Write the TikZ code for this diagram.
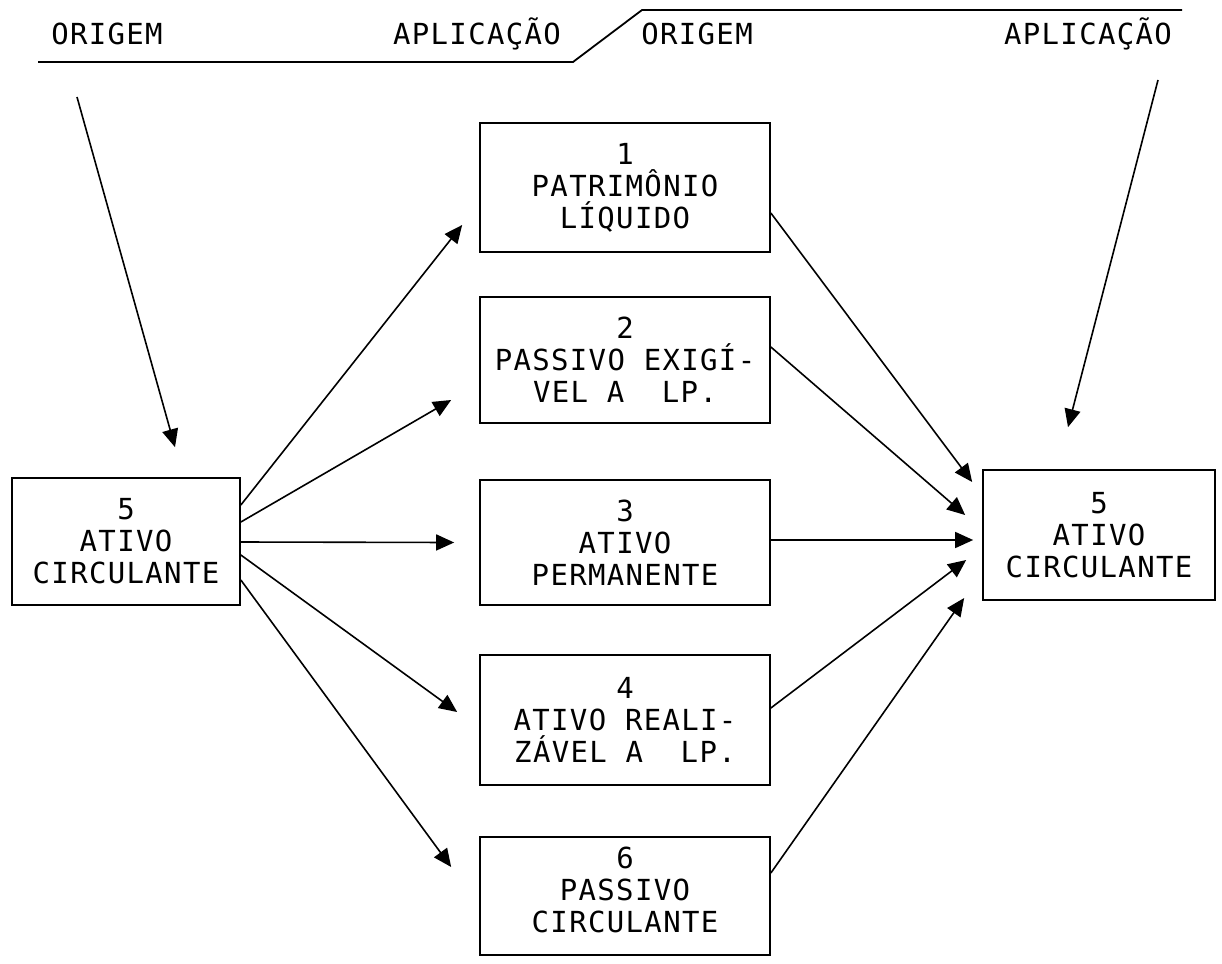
\documentclass[tikz,border=0pt]{standalone}
\usepackage{fontspec}
\usetikzlibrary{arrows.meta}
\newfontfamily\tw{DejaVu Sans Mono}[LetterSpace=4.6]

\tikzset{
  acct/.style={draw, line width=1.7pt, minimum width=290pt, minimum height=128pt,
               inner sep=0pt, align=center, font=\tw\fontsize{29}{32}\selectfont},
  label/.style={inner sep=0pt, anchor=base, font=\tw\fontsize{29}{32}\selectfont},
  flow/.style={line width=1.6pt, -{Triangle[length=18pt,width=16pt]}},
  rule/.style={line width=1.8pt}
}

\begin{document}
\begin{tikzpicture}[x=1pt,y=-1pt]
\useasboundingbox (0,0) rectangle (1222,963);

% heading with the two column pairs
\node[label] (o1) at (107,45) {ORIGEM};
\node[label] (a1) at (477,45) {APLICAÇÃO};
\node[label] (o2) at (697,45) {ORIGEM};
\node[label] (a2) at (1088,45) {APLICAÇÃO};
\draw[rule] (38,62) -- (573,62) -- (642,10) -- (1182,10);

% accounts
\node[acct, minimum width=228pt, minimum height=127pt] (L) at (126,541.5) {5\\ATIVO\\CIRCULANTE};
\node[acct, minimum width=232pt, minimum height=130pt] (R) at (1099,535) {5\\ATIVO\\CIRCULANTE};

\node[acct, minimum height=129pt] (b1) at (625,187.5) {1\\PATRIMÔNIO\\LÍQUIDO};
\node[acct, minimum height=126pt] (b2) at (625,360) {2\\PASSIVO EXIGÍ-\\VEL A\ \ LP.};
\node[acct, minimum height=125pt] (b3) at (625,542.5) {3\\ATIVO\\PERMANENTE};
\node[acct, minimum height=130pt] (b4) at (625,720) {4\\ATIVO REALI-\\ZÁVEL A\ \ LP.};
\node[acct, minimum height=118pt, text depth=12pt] (b6) at (625,896) {6\\PASSIVO\\CIRCULANTE};

% incoming flows from the headings
\coordinate (s1) at (77,97);
\coordinate (s2) at (1158,80);
\draw[flow] (s1) -- ([xshift=49pt,yshift=30pt]L.north);
\draw[flow] (s2) -- ([xshift=-31pt,yshift=42pt]R.north);

% fan-out from the left account
\draw[flow] ([yshift=36.5pt]L.east) -- ([xshift=-17pt,yshift=-37.5pt]b1.west);
\draw[flow] ([yshift=19.5pt]L.east) -- ([xshift=-28pt,yshift=-40pt]b2.west);
\draw[flow] ([yshift=-0.5pt]L.east) -- ([xshift=-25pt]b3.west);
\draw[flow] ([yshift=-13.5pt]L.east) -- ([xshift=-22pt,yshift=8pt]b4.west);
\draw[flow] ([yshift=-38.5pt]L.east) -- ([xshift=-28pt,yshift=29pt]b6.west);

% fan-in to the right account
\draw[flow] ([yshift=-25.5pt]b1.east) -- ([xshift=-10pt,yshift=53pt]R.west);
\draw[flow] ([yshift=13pt]b2.east) -- ([xshift=-17pt,yshift=20pt]R.west);
\draw[flow] ([yshift=2.5pt]b3.east) -- ([xshift=-9pt,yshift=-5pt]R.west);
\draw[flow] ([yshift=12pt]b4.east) -- ([xshift=-16pt,yshift=-25pt]R.west);
\draw[flow] ([yshift=23pt]b6.east) -- ([xshift=-18pt,yshift=-63pt]R.west);
\end{tikzpicture}
\end{document}
